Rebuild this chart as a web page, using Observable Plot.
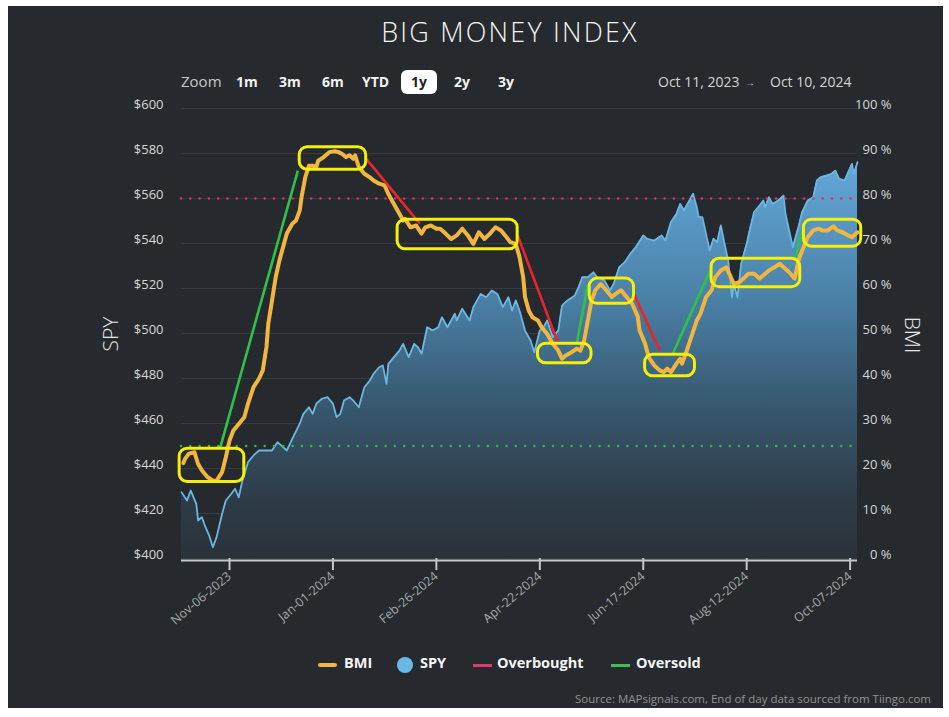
<!DOCTYPE html>
<html><head><meta charset="utf-8">
<script src="https://cdn.jsdelivr.net/npm/d3@7"></script>
<script src="https://cdn.jsdelivr.net/npm/@observablehq/plot@0.6"></script>
<style>
body{margin:0;background:#ffffff;}
#card{position:absolute;left:8px;top:6px;width:935px;height:702px;background:#262a2e;overflow:hidden;font-family:"Open Sans",sans-serif;}
#card svg{position:absolute;left:0;top:0;}
.t{position:absolute;line-height:1;white-space:nowrap;}
.zb{font-size:14px;font-weight:700;color:#f2f2f2;top:69px;}
.lg{font-size:14.5px;font-weight:700;color:#f4f4f4;top:650px;}
</style></head><body>
<div id="card">
  <div id="chart"></div>
  <div class="t" style="left:0;width:1004px;text-align:center;top:12px;font-size:27px;font-weight:300;color:#f4f4f4;letter-spacing:2.2px;">BIG MONEY INDEX</div>
  <div class="t" style="left:173px;top:68px;font-size:15px;color:#c8c8c8;">Zoom</div>
  <div class="t zb" style="left:228px;">1m</div>
  <div class="t zb" style="left:271px;">3m</div>
  <div class="t zb" style="left:314px;">6m</div>
  <div class="t zb" style="left:354px;">YTD</div>
  <div style="position:absolute;left:393px;top:64px;width:36px;height:24px;border-radius:6px;background:#ffffff;"></div>
  <div class="t zb" style="left:393px;width:36px;text-align:center;color:#222;">1y</div>
  <div class="t zb" style="left:446px;">2y</div>
  <div class="t zb" style="left:490px;">3y</div>
  <div class="t" style="left:650px;top:69px;font-size:14px;color:#d4d4d4;">Oct 11, 2023</div>
  <div class="t" style="left:737px;top:71px;font-size:10px;color:#d4d4d4;">→</div>
  <div class="t" style="left:762px;top:69px;font-size:14px;color:#d4d4d4;">Oct 10, 2024</div>
  <div class="t" style="left:102px;top:328px;transform:translate(-50%,-50%) rotate(-90deg);font-size:21px;font-weight:300;color:#e6e6e6;">SPY</div>
  <div class="t" style="left:904px;top:329px;transform:translate(-50%,-50%) rotate(90deg);font-size:21px;font-weight:300;color:#e6e6e6;">BMI</div>
  <div style="position:absolute;left:310px;top:657px;width:19px;height:4px;border-radius:2px;background:#f1b63f;"></div>
  <div class="t lg" style="left:336px;">BMI</div>
  <div style="position:absolute;left:389px;top:651px;width:16px;height:16px;border-radius:8px;background:#6ab8e8;"></div>
  <div class="t lg" style="left:412px;">SPY</div>
  <div style="position:absolute;left:465px;top:658px;width:19px;height:3px;background:#e03a6c;"></div>
  <div class="t lg" style="left:489px;">Overbought</div>
  <div style="position:absolute;left:603px;top:658px;width:19px;height:3px;background:#3cc04c;"></div>
  <div class="t lg" style="left:628px;">Oversold</div>
  <div class="t" style="right:12px;top:687px;font-size:11.5px;color:#8e9296;">Source: MAPsignals.com, End of day data sourced from Tiingo.com</div>
</div>
<script>
// ---------- data ----------
const spyDates = ["2023-10-11","2023-10-14","2023-10-16","2023-10-19","2023-10-20","2023-10-22","2023-10-24","2023-10-26","2023-10-28","2023-10-30",
"2023-11-02","2023-11-04","2023-11-07","2023-11-09","2023-11-11","2023-11-13","2023-11-16","2023-11-19","2023-11-22","2023-11-26","2023-11-29",
"2023-12-02","2023-12-05","2023-12-07","2023-12-10","2023-12-14","2023-12-16","2023-12-19","2023-12-21","2023-12-23","2023-12-26","2023-12-29",
"2024-01-01","2024-01-03","2024-01-05","2024-01-07","2024-01-10","2024-01-12","2024-01-15","2024-01-18","2024-01-21","2024-01-23","2024-01-26","2024-01-28","2024-01-30","2024-01-31",
"2024-02-03","2024-02-06","2024-02-08","2024-02-11","2024-02-14","2024-02-16","2024-02-18","2024-02-21","2024-02-24","2024-02-27","2024-02-29",
"2024-03-03","2024-03-07","2024-03-08","2024-03-11","2024-03-15","2024-03-17","2024-03-21","2024-03-24","2024-03-27","2024-03-30",
"2024-04-02","2024-04-05","2024-04-07","2024-04-09","2024-04-11","2024-04-14","2024-04-17","2024-04-19","2024-04-22","2024-04-24","2024-04-26","2024-04-29",
"2024-05-02","2024-05-04","2024-05-07","2024-05-11","2024-05-13","2024-05-15","2024-05-18","2024-05-21","2024-05-23","2024-05-27","2024-05-30",
"2024-06-01","2024-06-04","2024-06-07","2024-06-10","2024-06-13","2024-06-17","2024-06-19","2024-06-23","2024-06-27","2024-06-29",
"2024-07-02","2024-07-05","2024-07-07","2024-07-09","2024-07-12","2024-07-14","2024-07-16","2024-07-17","2024-07-19","2024-07-21","2024-07-23","2024-07-25","2024-07-27","2024-07-29","2024-07-31",
"2024-08-02","2024-08-04","2024-08-05","2024-08-07","2024-08-09","2024-08-12","2024-08-14","2024-08-16","2024-08-19","2024-08-21","2024-08-22","2024-08-24","2024-08-26","2024-08-29",
"2024-09-01","2024-09-02","2024-09-04","2024-09-06","2024-09-09","2024-09-11","2024-09-14","2024-09-17","2024-09-19","2024-09-21","2024-09-24","2024-09-27","2024-09-29",
"2024-10-01","2024-10-04","2024-10-06","2024-10-08","2024-10-09","2024-10-11"];
const spyValues = [429.5,425.8,430.2,424.3,416.9,418.4,413.9,410.2,405.0,409.5,
419.9,425.8,428.8,431.0,427.2,434.7,442.8,445.8,448.0,448.0,448.0,
451.7,449.5,448.0,453.2,459.9,464.3,467.2,464.3,468.8,471.0,471.7,
468.8,462.8,464.3,470.2,471.7,470.2,467.2,476.1,479.1,482.1,485.0,485.8,477.6,486.5,
489.5,492.4,495.4,489.5,495.4,493.9,491.0,502.8,501.3,502.8,507.2,
502.8,508.8,505.8,511.0,505.8,511.7,517.6,516.1,519.1,517.6,
511.7,516.1,510.2,514.7,510.2,501.3,496.9,491.7,501.3,502.8,505.8,498.4,
501.3,512.4,514.7,516.9,520.6,525.0,525.0,527.2,525.0,523.6,519.1,
522.1,529.5,531.7,535.4,538.4,543.6,542.1,541.3,543.6,541.3,
549.5,553.2,557.6,554.7,559.1,562.1,556.1,551.7,551.7,544.3,536.9,542.1,540.6,548.0,539.9,
532.4,516.1,522.1,516.1,531.0,539.9,547.2,553.9,556.9,559.1,556.1,560.6,557.6,559.1,
561.3,553.2,545.8,538.4,547.2,553.9,559.1,560.6,568.0,569.5,570.2,571.0,572.4,
568.8,568.0,571.7,575.4,571.0,576.1];

const bmiDates = ["2023-10-12","2023-10-13","2023-10-15","2023-10-18","2023-10-20","2023-10-22","2023-10-25","2023-10-28","2023-10-30",
"2023-11-02","2023-11-04","2023-11-06","2023-11-08","2023-11-11","2023-11-14","2023-11-16","2023-11-19","2023-11-22","2023-11-24","2023-11-26","2023-11-27","2023-11-29",
"2023-12-01","2023-12-03","2023-12-05","2023-12-07","2023-12-10","2023-12-12","2023-12-14","2023-12-15","2023-12-17","2023-12-19","2023-12-21","2023-12-23","2023-12-24","2023-12-27","2023-12-30",
"2024-01-02","2024-01-04","2024-01-06","2024-01-08","2024-01-10","2024-01-12","2024-01-13","2024-01-15","2024-01-18","2024-01-21","2024-01-23","2024-01-26","2024-01-29","2024-01-31",
"2024-02-03","2024-02-06","2024-02-08","2024-02-09","2024-02-12","2024-02-15","2024-02-18","2024-02-20","2024-02-23","2024-02-26","2024-02-28",
"2024-03-02","2024-03-05","2024-03-08","2024-03-11","2024-03-14","2024-03-17","2024-03-20","2024-03-23","2024-03-26","2024-03-29",
"2024-04-01","2024-04-04","2024-04-06","2024-04-09","2024-04-11","2024-04-13","2024-04-14","2024-04-16","2024-04-18","2024-04-21","2024-04-23","2024-04-26","2024-04-29",
"2024-05-02","2024-05-04","2024-05-06","2024-05-09","2024-05-12","2024-05-14","2024-05-16","2024-05-18","2024-05-20","2024-05-22","2024-05-25","2024-05-28","2024-05-31",
"2024-06-02","2024-06-05","2024-06-08","2024-06-11","2024-06-14","2024-06-15","2024-06-18","2024-06-20","2024-06-23","2024-06-26","2024-06-28","2024-06-30",
"2024-07-02","2024-07-05","2024-07-07","2024-07-08","2024-07-10","2024-07-13","2024-07-16","2024-07-18","2024-07-21","2024-07-24","2024-07-26","2024-07-29",
"2024-08-01","2024-08-03","2024-08-05","2024-08-08","2024-08-11","2024-08-13","2024-08-16","2024-08-19","2024-08-22","2024-08-24","2024-08-27","2024-08-30",
"2024-09-01","2024-09-04","2024-09-07","2024-09-09","2024-09-11","2024-09-14","2024-09-17","2024-09-20","2024-09-22","2024-09-25","2024-09-28","2024-09-30",
"2024-10-03","2024-10-06","2024-10-08","2024-10-11"];
const bmiValues = [21.2,22.2,23.3,23.6,21.0,19.6,18.1,17.3,17.3,
19.2,22.5,26.2,28.4,29.9,31.4,34.4,38.1,40.0,41.8,47.0,52.2,57.3,
62.5,66.2,69.2,72.2,74.4,75.1,77.3,80.3,84.7,87.3,87.3,87.0,88.4,89.2,90.3,
90.5,90.3,89.9,89.2,89.6,88.8,89.6,87.0,85.5,84.7,84.0,83.3,82.9,81.0,
78.8,76.6,75.1,75.5,73.6,74.0,72.2,73.6,74.0,73.3,73.3,
72.2,71.0,71.8,73.3,71.8,69.9,72.5,71.0,72.2,73.6,
72.9,71.4,70.3,69.9,67.0,62.5,58.1,55.1,53.6,52.9,51.4,49.9,47.7,
46.2,44.4,45.1,45.8,46.6,46.2,48.4,52.9,57.3,59.6,61.0,59.6,58.1,
58.8,59.6,58.1,56.6,53.8,50.7,47.7,44.7,42.9,41.8,41.4,42.2,
41.4,43.3,44.4,43.3,45.5,49.2,52.9,54.4,58.1,59.6,62.5,64.0,
64.7,62.9,61.0,61.4,62.5,63.3,63.3,62.2,63.3,64.0,64.7,65.5,
64.7,63.6,62.2,66.2,68.4,71.4,72.9,73.3,72.9,72.9,73.8,72.9,
72.5,71.8,71.4,72.5];

const overboughtLevel = 80;   // %
const oversoldLevel = 25;     // %

// signal segments: start date, start %, end date, end %
const overboughtSignals = [
  ["2024-01-19", 88.8, "2024-02-17", 74.4],
  ["2024-04-10", 71.8, "2024-05-02", 47.7],
  ["2024-06-12", 58.8, "2024-06-26", 46.2]
];
const oversoldSignals = [
  ["2023-11-01", 24.7, "2023-12-13", 86.2],
  ["2024-05-12", 47.7, "2024-05-18", 61.0],
  ["2024-07-03", 45.5, "2024-07-24", 64.7],
  ["2024-09-07", 66.2, "2024-09-11", 72.9]
];

// highlight boxes
const boxStart = ["2023-10-10","2023-12-14","2024-02-05","2024-04-21","2024-05-19","2024-06-18","2024-07-24","2024-09-12"];
const boxEnd   = ["2023-11-14","2024-01-19","2024-04-10","2024-05-20","2024-06-12","2024-07-15","2024-09-10","2024-10-13"];
const boxLow   = [17.0, 86.4, 68.7, 43.4, 56.6, 40.5, 60.3, 69.3];
const boxHigh  = [24.4, 91.4, 75.3, 47.7, 62.2, 45.3, 66.6, 75.3];

const xTickDates = ["2023-11-06","2024-01-01","2024-02-26","2024-04-22","2024-06-17","2024-08-12","2024-10-07"];
const yTickValues = [0,10,20,30,40,50,60,70,80,90,100];   // BMI %
const spyAtZero = 400, spyPerPercent = 2;                 // left axis: $400 .. $600

// ---------- build ----------
const parse = d3.utcParse("%Y-%m-%d");
const toAxis = v => (v - spyAtZero) / spyPerPercent;
const spy = spyDates.map((d, i) => ({date: parse(d), v: toAxis(spyValues[i])}));
const bmi = bmiDates.map((d, i) => ({date: parse(d), v: bmiValues[i]}));
const seg = a => a.map(s => ({x1: parse(s[0]), y1: s[1], x2: parse(s[2]), y2: s[3]}));
const boxes = boxStart.map((d, i) => ({x1: parse(d), x2: parse(boxEnd[i]), y1: boxLow[i], y2: boxHigh[i]}));

const defs = () => {
  const g = document.createElementNS("http://www.w3.org/2000/svg", "defs");
  g.innerHTML = '<linearGradient id="spyGrad" x1="0" y1="0" x2="0" y2="1">' +
    '<stop offset="0" stop-color="#63a8d8"/><stop offset="0.35" stop-color="#4a80a6"/>' +
    '<stop offset="0.6" stop-color="#385a72"/><stop offset="0.85" stop-color="#2e3c48"/>' +
    '<stop offset="1" stop-color="#2a3239"/></linearGradient>';
  return g;
};

const chart = Plot.plot({
  width: 935, height: 640,
  marginTop: 102, marginBottom: 88, marginLeft: 173, marginRight: 86,
  style: {background: "transparent", color: "#d6d6d6", fontFamily: "'Open Sans', sans-serif", fontSize: "13px", overflow: "visible"},
  x: {type: "utc", domain: [parse("2023-10-11"), parse("2024-10-11")]},
  y: {domain: [0, 100]},
  marks: [
    defs,
    Plot.gridY(yTickValues, {stroke: "#363b40", strokeOpacity: 1}),
    Plot.areaY(spy, {x: "date", y1: 0, y2: "v", fill: "url(#spyGrad)"}),
    Plot.lineY(spy, {x: "date", y: "v", stroke: "#6cb6e2", strokeWidth: 1.8}),
    Plot.ruleY([overboughtLevel], {stroke: "#d8346a", strokeWidth: 2.6, strokeDasharray: "0 9.3", strokeLinecap: "round"}),
    Plot.ruleY([oversoldLevel], {stroke: "#38b84c", strokeWidth: 2.6, strokeDasharray: "0 9.3", strokeLinecap: "round"}),
    Plot.lineY(bmi, {x: "date", y: "v", stroke: "#f1b63f", strokeWidth: 4, strokeLinejoin: "round", strokeLinecap: "round"}),
    Plot.link(seg(overboughtSignals), {x1: "x1", y1: "y1", x2: "x2", y2: "y2", stroke: "#e8252f", strokeWidth: 2.6}),
    Plot.link(seg(oversoldSignals), {x1: "x1", y1: "y1", x2: "x2", y2: "y2", stroke: "#2fc14a", strokeWidth: 2.6}),
    Plot.rect(boxes, {x1: "x1", x2: "x2", y1: "y1", y2: "y2", fill: "none", stroke: "#f4f00a", strokeWidth: 3, rx: 8}),
    Plot.ruleY([0], {stroke: "#c4c8cc", strokeWidth: 2, dy: 2}),
    Plot.axisX(xTickDates.map(parse), {tickFormat: d3.utcFormat("%b-%d-%Y"), tickSize: 12, tickPadding: 4, tickRotate: -40,
      stroke: "#c4c8cc", strokeWidth: 2, fill: "#a4a8ac", fontSize: 12.5, label: null}),
    Plot.axisY(yTickValues, {anchor: "left", tickSize: 0, tickPadding: 18, tickFormat: d => "$" + (spyAtZero + spyPerPercent * d),
      dy: -4, label: null, fill: "#d6d6d6"}),
    Plot.axisY(yTickValues, {anchor: "right", tickSize: 0, tickPadding: 34, textAnchor: "end", tickFormat: d => d + " %",
      dy: -4, label: null, fill: "#d6d6d6"})
  ]
});
document.getElementById("chart").appendChild(chart);
</script>
</body></html>
